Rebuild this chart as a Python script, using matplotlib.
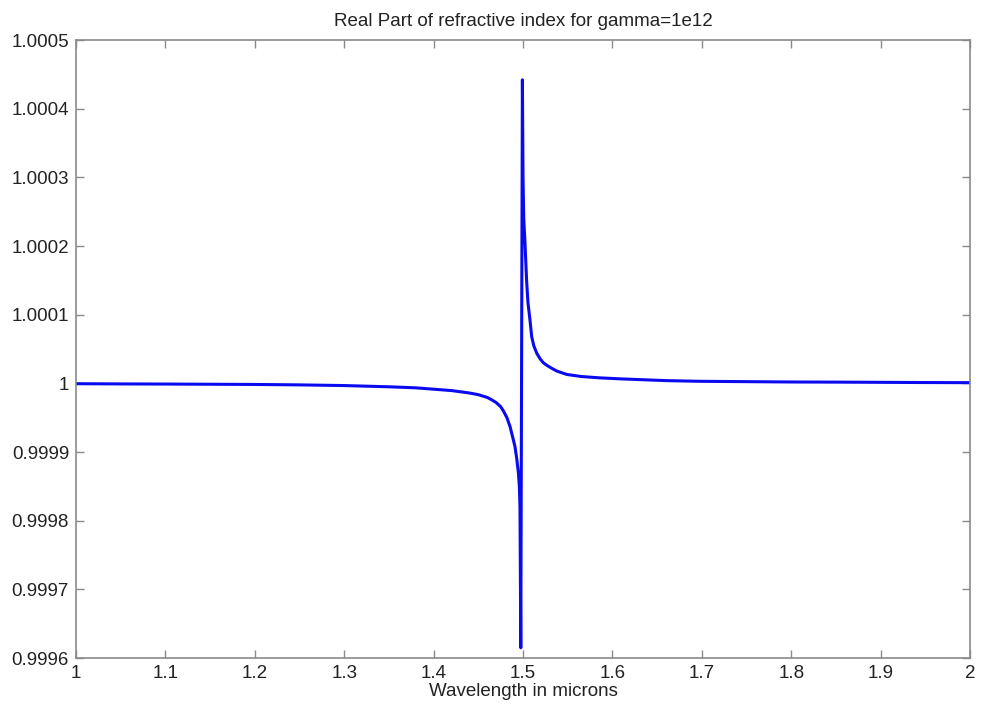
import numpy as np
import matplotlib
matplotlib.use("Agg")
import matplotlib.pyplot as plt

plt.rcParams['font.family'] = ['Liberation Sans', 'DejaVu Sans']

# wavelength (microns) and real part of n
wavelength = [1.000, 1.050, 1.100, 1.150, 1.200, 1.250, 1.300, 1.350, 1.380,
              1.400, 1.420, 1.440, 1.450, 1.460, 1.465, 1.470, 1.475, 1.478,
              1.482, 1.4855, 1.488, 1.491, 1.493, 1.4948, 1.4959, 1.4966,
              1.4975, 1.4993, 1.5000, 1.5008, 1.5022, 1.5030, 1.5040, 1.5055,
              1.5078, 1.5097, 1.5120, 1.5153, 1.5190, 1.5227, 1.5270, 1.5320,
              1.5377, 1.5488, 1.5650, 1.5860, 1.6100, 1.6300, 1.6600, 1.6980,
              1.7500, 1.8000, 1.8500, 1.9000, 1.9500, 2.0000]
# (n - 1) in units of 1e-6
dn = [-0.5, -0.8, -1.0, -1.3, -1.6, -2.2, -3.2, -5.0, -6.5,
      -8.5, -10.5, -14.0, -16.5, -20.5, -24.0, -28.0, -34.0, -40.0,
      -50.0, -63.0, -76.0, -92.0, -110.0, -130.0, -150.0, -180.0,
      -385.0, 442.0, 300.0, 240.0, 205.0, 180.0, 150.0, 118.0,
      92.0, 68.0, 55.0, 44.0, 36.0, 30.0, 26.0, 22.0,
      18.0, 13.0, 10.0, 8.0, 6.5, 5.5, 4.0, 3.0,
      2.5, 2.0, 1.8, 1.5, 1.2, 1.0]

xticks = [1, 1.1, 1.2, 1.3, 1.4, 1.5, 1.6, 1.7, 1.8, 1.9, 2]
xticklabels = ['1', '1.1', '1.2', '1.3', '1.4', '1.5', '1.6', '1.7', '1.8', '1.9', '2']
yticks = [0.9996, 0.9997, 0.9998, 0.9999, 1.0, 1.0001, 1.0002, 1.0003, 1.0004, 1.0005]
yticklabels = ['0.9996', '0.9997', '0.9998', '0.9999', '1', '1.0001', '1.0002',
               '1.0003', '1.0004', '1.0005']

n_real = 1 + np.array(dn) * 1e-6

fig = plt.figure(figsize=(9.81, 7.11), dpi=100)
ax = fig.add_axes([0.0775, 0.0745, 0.9113, 0.8692])

ax.plot(wavelength, n_real, color='#0a0af0', lw=2.2, solid_joinstyle='round')

ax.set_xlim(1, 2)
ax.set_ylim(0.9996, 1.0005)
ax.set_xticks(xticks)
ax.set_xticklabels(xticklabels)
ax.set_yticks(yticks)
ax.set_yticklabels(yticklabels)

ax.tick_params(direction='in', length=6, width=1, colors='#8a8a8a',
               labelcolor='#222222', labelsize=13.5, top=True, right=True, pad=5)
for s in ax.spines.values():
    s.set_color('#8a8a8a')
    s.set_linewidth(1.2)

ax.set_xlabel('Wavelength in microns', fontsize=13.5, color='#222222', labelpad=1)
ax.set_title('Real Part of refractive index for gamma=1e12', fontsize=13.5,
             color='#222222', pad=10)

fig.savefig('out.png', dpi=100)
